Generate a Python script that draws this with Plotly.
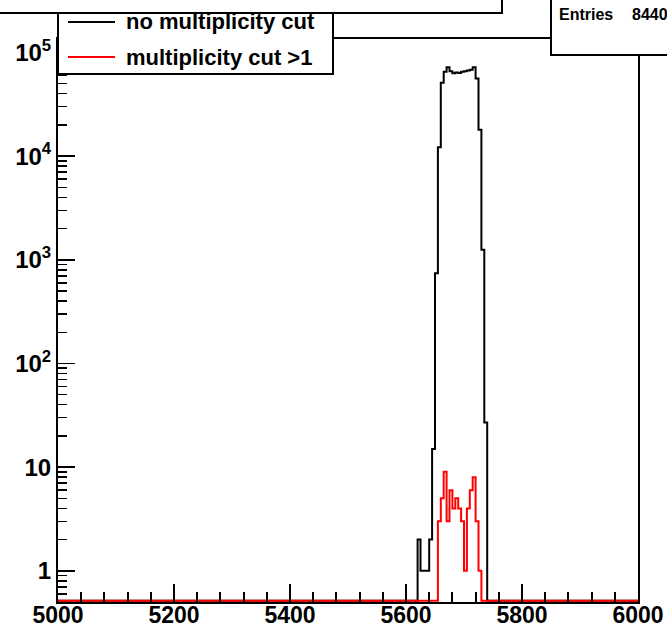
import numpy as np
import plotly.graph_objects as go

# ---------------- data ----------------
x_lo, x_hi, bin_w = 5000, 6000, 5
black_first_bin = 5620
black_counts = [2, 1, 1, 1, 2, 15, 740, 12200, 51000, 65000, 72000, 66000,
                63000, 64000, 63500, 65000, 66000, 67000, 68000, 72000,
                56000, 18000, 1250, 27]
red_first_bin = 5655
red_counts = [3, 5, 9, 3, 6, 4, 5, 4, 3, 1, 4, 6, 8, 3, 1]

x_tick_vals = [5000, 5200, 5400, 5600, 5800, 6000]
x_tick_text = ["5000", "5200", "5400", "5600", "5800", "6000"]
x_minor_vals = [v for v in range(5040, 6000, 40) if v % 200 != 0]
y_tick_vals = [1, 10, 100, 1000, 10000, 100000]
y_tick_text = ["1", "10", "10<sup>2</sup>", "10<sup>3</sup>", "10<sup>4</sup>", "10<sup>5</sup>"]
y_minor_vals = [m * 10.0 ** k for k in range(-1, 6) for m in range(2, 10)]
legend_labels = ["no multiplicity cut", "multiplicity cut >1"]
series_colors = ["black", "red"]
stats_label, stats_value = "Entries", "8440"

y_log_min, y_log_max = np.log10(0.5), 5.13

# ---------------- build histograms ----------------
n_bins = int((x_hi - x_lo) / bin_w)
edges = x_lo + bin_w * np.arange(n_bins + 1)


def fill(first_bin, counts):
    c = np.zeros(n_bins)
    i0 = int((first_bin - x_lo) / bin_w)
    c[i0:i0 + len(counts)] = counts
    return c


floor = 10 ** (y_log_min + 0.012)


def step_xy(c):
    yc = np.where(c > 0, c, floor)
    return edges, np.append(yc, yc[-1])


fig = go.Figure()
for counts, first, col in [(black_counts, black_first_bin, series_colors[0]),
                           (red_counts, red_first_bin, series_colors[1])]:
    xs, ys = step_xy(fill(first, counts))
    fig.add_trace(go.Scatter(x=xs, y=ys, mode="lines", line_shape="hv",
                             line=dict(color=col, width=2), showlegend=False,
                             hoverinfo="skip"))

# ---------------- layout ----------------
W, H = 667, 629
L, R, T, B = 58, 638, 39, 602


def px(x):
    return (x - L) / (R - L)


def py(y):
    return (B - y) / (B - T)


x_tick_font = dict(family="Liberation Sans", size=23, color="black", weight="bold")
y_tick_font = dict(family="Liberation Sans", size=24, color="black", weight="bold")

fig.update_layout(
    width=W, height=H, autosize=False,
    margin=dict(l=L, r=W - R, t=T, b=H - B, pad=0, autoexpand=False),
    paper_bgcolor="white", plot_bgcolor="white",
    xaxis=dict(range=[x_lo, x_hi], showline=True, linecolor="black", linewidth=2,
               mirror=True, ticks="inside", ticklen=18, tickwidth=2, tickcolor="black",
               tickmode="array", tickvals=x_tick_vals, ticktext=x_tick_text,
               tickfont=x_tick_font, showgrid=False, zeroline=False, automargin=False,
               ticklabelstandoff=-9, layer="above traces",
               minor=dict(ticks="inside", ticklen=10, tickwidth=2, tickcolor="black",
                          tickmode="array", tickvals=x_minor_vals, showgrid=False)),
    yaxis=dict(type="log", range=[y_log_min, y_log_max], showline=True, linecolor="black",
               linewidth=2, mirror=True, ticks="inside", ticklen=17, tickwidth=1.5,
               tickcolor="black", tickmode="array", tickvals=y_tick_vals,
               ticktext=y_tick_text, tickfont=y_tick_font, showgrid=False, zeroline=False,
               automargin=False,
               minor=dict(ticks="inside", ticklen=9, tickwidth=1.5, tickcolor="black",
                          tickmode="array", tickvals=y_minor_vals, showgrid=False)),
)

shapes = []
# title box (cut off at top)
shapes.append(dict(type="rect", xref="paper", yref="paper", x0=px(-5), x1=px(502),
                   y0=py(-30), y1=py(13), fillcolor="white",
                   line=dict(color="black", width=2), layer="above"))
# legend box
shapes.append(dict(type="rect", xref="paper", yref="paper", x0=px(58), x1=px(333),
                   y0=py(74), y1=py(13), fillcolor="white",
                   line=dict(color="black", width=2), layer="above"))
# stats box
shapes.append(dict(type="rect", xref="paper", yref="paper", x0=px(551), x1=px(720),
                   y0=py(55), y1=py(-30), fillcolor="white",
                   line=dict(color="black", width=2), layer="above"))
# legend samples
for yy, col in [(22, series_colors[0]), (57, series_colors[1])]:
    shapes.append(dict(type="line", xref="paper", yref="paper", x0=px(68), x1=px(115),
                       y0=py(yy), y1=py(yy), line=dict(color=col, width=2), layer="above"))
fig.update_layout(shapes=shapes)

ann_font = dict(family="Liberation Sans", size=22, color="black", weight="bold")
annotations = []
for yy, txt in [(22, legend_labels[0]), (57, legend_labels[1])]:
    annotations.append(dict(xref="paper", yref="paper", x=px(124), y=py(yy), text=txt,
                            showarrow=False, xanchor="left", yanchor="middle", font=ann_font))
stat_font = dict(family="Liberation Sans", size=16, color="black", weight="bold")
annotations.append(dict(xref="paper", yref="paper", x=px(557), y=py(15), text=stats_label,
                        showarrow=False, xanchor="left", yanchor="middle", font=stat_font))
annotations.append(dict(xref="paper", yref="paper", x=px(630), y=py(15), text=stats_value,
                        showarrow=False, xanchor="left", yanchor="middle", font=stat_font))
fig.update_layout(annotations=annotations)

fig.write_html(
    "out.html",
    config={"displayModeBar": False, "staticPlot": True},
    post_script="document.body.style.margin='0px';document.body.style.overflow='hidden';",
)
